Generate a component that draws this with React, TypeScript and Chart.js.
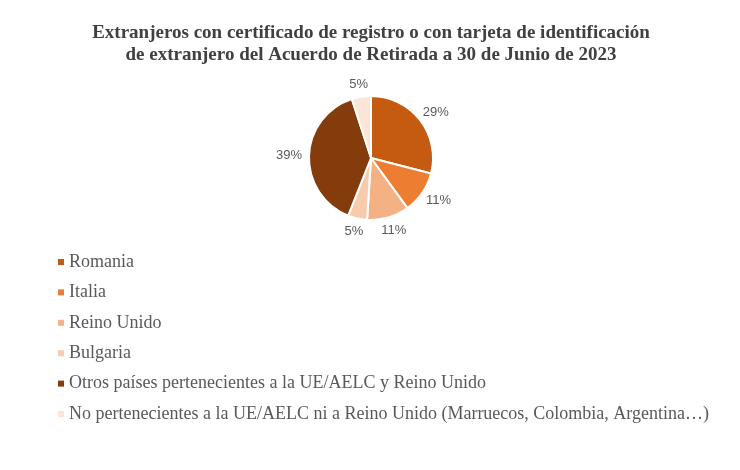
import React, { useEffect, useRef } from "react";
import { Chart, registerables } from "chart.js";

Chart.register(...registerables);

const titleLines = [
  "Extranjeros con certificado de registro o con tarjeta de identificación",
  "de extranjero del Acuerdo de Retirada a 30 de Junio de 2023",
];
const categories = [
  "Romania",
  "Italia",
  "Reino Unido",
  "Bulgaria",
  "Otros países pertenecientes a la UE/AELC y Reino Unido",
  "No pertenecientes a la UE/AELC ni a Reino Unido (Marruecos, Colombia, Argentina…)",
];
const shares = [29, 11, 11, 5, 39, 5];
const sliceColors = ["#C55A11", "#ED7D31", "#F4B183", "#F8CBAD", "#843C0C", "#FBE5D6"];

const pctLabelPlugin = {
  id: "pctLabels",
  afterDatasetsDraw(chart: any) {
    const ctx = chart.ctx;
    const meta = chart.getDatasetMeta(0);
    const data = chart.data.datasets[0].data as number[];
    const total = data.reduce((a, b) => a + b, 0);
    ctx.save();
    ctx.font = "13px 'Liberation Sans', Arial, sans-serif";
    ctx.fillStyle = "#595959";
    ctx.textAlign = "center";
    ctx.textBaseline = "middle";
    meta.data.forEach((arc: any, i: number) => {
      const p = arc.getProps(["x", "y", "startAngle", "endAngle", "outerRadius"], true);
      const mid = (p.startAngle + p.endAngle) / 2;
      const txt = Math.round((data[i] / total) * 100) + "%";
      const w = ctx.measureText(txt).width;
      const h = 12;
      const cos = Math.cos(mid);
      const sin = Math.sin(mid);
      const r = p.outerRadius + 7;
      const x = p.x + cos * (r + w / 2);
      const y = p.y + sin * (r + h / 2);
      ctx.fillText(txt, x, y);
    });
    ctx.restore();
  },
};

const legendPlugin = {
  id: "sideLegend",
  afterDraw(chart: any) {
    const ctx = chart.ctx;
    const labels = chart.data.labels as string[];
    const colors = chart.data.datasets[0].backgroundColor as string[];
    ctx.save();
    ctx.font = "18px 'Liberation Serif', 'Times New Roman', serif";
    ctx.textBaseline = "middle";
    ctx.textAlign = "left";
    const startY = 262;
    const step = 30.4;
    labels.forEach((lab, i) => {
      const y = startY + i * step;
      ctx.fillStyle = colors[i];
      ctx.fillRect(58, y - 3, 6, 6);
      ctx.fillStyle = "#595959";
      ctx.fillText(lab, 69, y);
    });
    ctx.restore();
  },
};

export default function App() {
  const ref = useRef<HTMLCanvasElement | null>(null);
  useEffect(() => {
    if (!ref.current) return;
    const chart = new Chart(ref.current, {
      type: "pie",
      data: {
        labels: categories,
        datasets: [
          {
            data: shares,
            backgroundColor: sliceColors,
            borderColor: "#ffffff",
            borderWidth: 2,
          },
        ],
      },
      options: {
        animation: false,
        responsive: true,
        maintainAspectRatio: false,
        layout: { padding: { top: 0, bottom: 249, left: 2, right: 0 } },
        plugins: {
          legend: { display: false },
          tooltip: { enabled: false },
          title: {
            display: true,
            text: titleLines,
            color: "#404040",
            font: { family: "'Liberation Serif', 'Times New Roman', serif", size: 19, weight: "bold", lineHeight: 1.15 },
            padding: { top: 22, bottom: 29.3 },
          },
        },
      },
      plugins: [pctLabelPlugin, legendPlugin],
    });
    return () => chart.destroy();
  }, []);
  return (
    <div style={{ position: "fixed", left: 0, top: 0, width: 740, height: 470, background: "#fff" }}>
      <canvas ref={ref} />
    </div>
  );
}
